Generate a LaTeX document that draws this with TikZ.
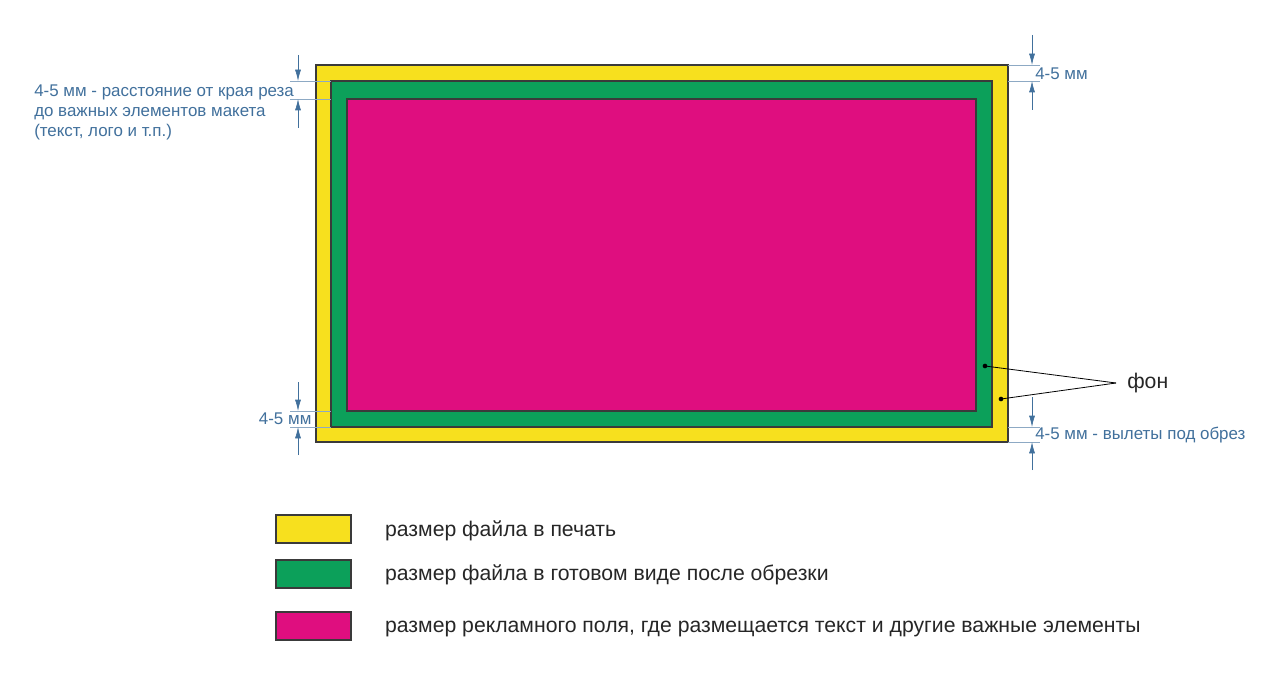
\documentclass[tikz,border=0pt]{standalone}
\usepackage{fontspec}
\setmainfont{Liberation Sans}
\usetikzlibrary{arrows.meta,positioning}

\definecolor{printyellow}{HTML}{F7E01E}
\definecolor{cutgreen}{HTML}{0CA05A}
\definecolor{adpink}{HTML}{DF0E7F}
\definecolor{dimblue}{HTML}{41709C}
\definecolor{edgegray}{HTML}{3A3A3A}

\begin{document}
\begin{tikzpicture}[
    x=0.75pt, y=-0.75pt,
    field/.style={draw=edgegray, line width=0.8pt},
    legbox/.style={rectangle, draw=edgegray, line width=0.8pt, minimum width=56.25pt, minimum height=21pt, inner sep=0pt},
    legtext/.style={text=black!85, font=\fontsize{15.9}{18}\selectfont, inner sep=0pt},
    dimarrow/.style={draw=dimblue, line width=0.5pt, -{Latex[length=8.5pt,width=4.5pt]}},
    extline/.style={draw=dimblue!60, line width=0.4pt},
    dimtext/.style={text=dimblue, font=\fontsize{12.7}{15}\selectfont, inner sep=0pt},
    pointer/.style={draw=black, line width=0.6pt},
    dot/.style={circle, fill=black, inner sep=0pt, minimum size=3.5pt}
]
    \useasboundingbox (0,0) rectangle (1280,673);

    % Fields: print size, trimmed size, safe area
    \draw[field, fill=printyellow] (316,65) rectangle (1008,442);
    \draw[field, fill=cutgreen] (331,81) rectangle (992,427);
    \draw[field, fill=adpink] (347,99) rectangle (976,411);

    % Top left dimension
    \coordinate (tlA) at (298,55);
    \coordinate (tlB) at (298,81);
    \coordinate (tlC) at (298,99);
    \coordinate (tlD) at (298,128);
    \draw[extline] (290,81) -- (331,81);
    \draw[extline] (290,99) -- (331,99);
    \draw[dimarrow] (tlA) -- (tlB);
    \draw[dimarrow] (tlD) -- (tlC);
    \node[dimtext, anchor=north west, align=left] (safenote) at (34,85) {4-5 мм - расстояние от края реза\\до важных элементов макета\\(текст, лого и т.п.)};

    % Top right dimension
    \coordinate (trA) at (1032,35);
    \coordinate (trB) at (1032,65);
    \coordinate (trC) at (1032,81);
    \coordinate (trD) at (1032,110);
    \draw[extline] (1008,65) -- (1040,65);
    \draw[extline] (1008,81) -- (1040,81);
    \draw[dimarrow] (trA) -- (trB);
    \draw[dimarrow] (trD) -- (trC);
    \node[dimtext, anchor=west] (trnote) at (1035,74) {4-5 мм};

    % Bottom left dimension
    \coordinate (blA) at (298,382);
    \coordinate (blB) at (298,411);
    \coordinate (blC) at (298,427);
    \coordinate (blD) at (298,455);
    \draw[extline] (290,411) -- (331,411);
    \draw[extline] (290,427) -- (331,427);
    \draw[dimarrow] (blA) -- (blB);
    \draw[dimarrow] (blD) -- (blC);
    \node[dimtext, fill=white, inner sep=1pt, anchor=east] (blnote) at (313,419) {4-5 мм};

    % Bottom right dimension
    \coordinate (brA) at (1032,397);
    \coordinate (brB) at (1032,427);
    \coordinate (brC) at (1032,442);
    \coordinate (brD) at (1032,470);
    \draw[extline] (1008,427) -- (1040,427);
    \draw[extline] (1008,442) -- (1040,442);
    \draw[dimarrow] (brA) -- (brB);
    \draw[dimarrow] (brD) -- (brC);
    \node[dimtext, anchor=west] (brnote) at (1035,435) {4-5 мм - вылеты под обрез};

    % Background pointers
    \node[dot] (greendot) at (985,366) {};
    \node[dot] (yellowdot) at (1001,399) {};
    \coordinate (fonpt) at (1116,383);
    \draw[pointer] (greendot.center) -- (fonpt);
    \draw[pointer] (yellowdot.center) -- (fonpt);
    \node[legtext, anchor=west] (fon) at (1127,383) {фон};

    % Legend
    \node[legbox, fill=printyellow] (keyprint) at (313.5,529) {};
    \node[legbox, fill=cutgreen] (keytrim) at (313.5,574) {};
    \node[legbox, fill=adpink] (keysafe) at (313.5,626) {};
    \node[legtext, right=25pt of keyprint, anchor=base west, yshift=-5.5pt] (labprint) {размер файла в печать};
    \node[legtext, right=25pt of keytrim, anchor=base west, yshift=-4.5pt] (labtrim) {размер файла в готовом виде после обрезки};
    \node[legtext, right=25pt of keysafe, anchor=base west, yshift=-4.5pt] (labsafe) {размер рекламного поля, где размещается текст и другие важные элементы};

\end{tikzpicture}
\end{document}
